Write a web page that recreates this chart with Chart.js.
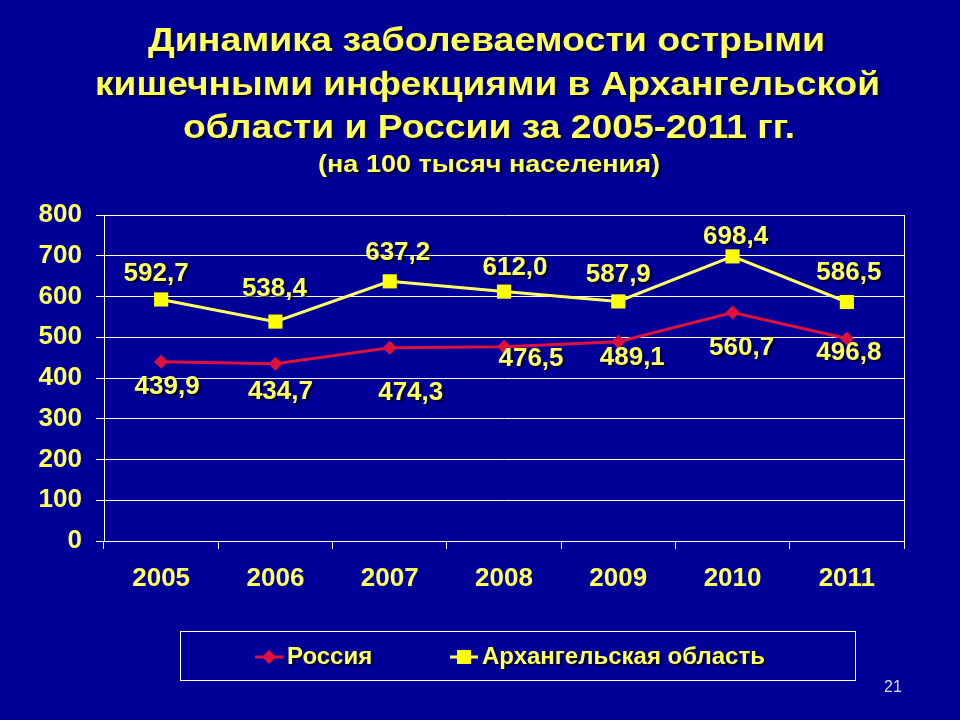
<!DOCTYPE html>
<html><head><meta charset="utf-8">
<script src="https://cdn.jsdelivr.net/npm/chart.js@4"></script>
<style>html,body{margin:0;padding:0;background:#000099;overflow:hidden}</style>
</head><body>
<canvas id="c" width="960" height="720" style="display:block;width:960px;height:720px"></canvas>
<script>
// ---- data ----
const years = ['2005', '2006', '2007', '2008', '2009', '2010', '2011'];
const russia = [439.9, 434.7, 474.3, 476.5, 489.1, 560.7, 496.8];
const arkhangelsk = [592.7, 538.4, 637.2, 612.0, 587.9, 698.4, 586.5];
const yTickValues = [0, 100, 200, 300, 400, 500, 600, 700, 800];
const seriesNames = ['Россия', 'Архангельская область'];
const titleLines = ['Динамика заболеваемости острыми', 'кишечными инфекциями в Архангельской', 'области и России за 2005-2011 гг.'];
const subtitleText = '(на 100 тысяч населения)';
const pageNumber = '21';

// label placement relative to each point (styling, not data)
const russiaLabelOffsets = [[6, 25], [5, 28], [21, 45], [27, 12], [14, 16], [9, 35], [2, 14]];
const arkhLabelOffsets = [[-5, -26], [-1, -33], [8, -29], [11, -24], [0, -27], [3, -20], [2, -29]];

const YELLOW = '#FFFF5A';
const RED = '#E0103C';
const BG = '#000099';
const FONT = '"Liberation Sans", Arial, sans-serif';

function fmt(v) { return v.toFixed(1).replace('.', ','); }
function shadowOn(ctx) { ctx.shadowColor = 'rgba(0,0,0,0.75)'; ctx.shadowOffsetX = 2; ctx.shadowOffsetY = 2; ctx.shadowBlur = 2; }

// draw text stretched/compressed horizontally so it spans targetWidth, centred on cx
function fitText(ctx, text, cx, y, targetWidth) {
  const w = ctx.measureText(text).width;
  const sx = targetWidth / w;
  ctx.save();
  ctx.translate(cx, y);
  ctx.scale(sx, 1);
  ctx.textAlign = 'center';
  ctx.fillText(text, 0, 0);
  ctx.restore();
}

const bgPlugin = {
  id: 'bg',
  beforeDraw(chart) {
    const ctx = chart.ctx;
    ctx.save(); ctx.fillStyle = BG; ctx.fillRect(0, 0, chart.width, chart.height); ctx.restore();
  }
};

const framePlugin = {
  id: 'frame',
  beforeDatasetsDraw(chart) {
    const { ctx, chartArea: a } = chart;
    ctx.save(); ctx.strokeStyle = '#FFFFFF'; ctx.lineWidth = 1;
    ctx.beginPath(); ctx.moveTo(a.right + 0.5, a.top); ctx.lineTo(a.right + 0.5, a.bottom); ctx.stroke();
    ctx.restore();
  }
};

const titlePlugin = {
  id: 'slideTitle',
  afterDraw(chart) {
    const ctx = chart.ctx;
    ctx.save(); shadowOn(ctx);
    ctx.fillStyle = YELLOW; ctx.textBaseline = 'alphabetic';
    ctx.font = 'bold 33px ' + FONT;
    const spans = [[148, 825], [95, 880], [183, 795]];
    const bases = [51, 95, 138];
    titleLines.forEach((t, i) => fitText(ctx, t, (spans[i][0] + spans[i][1]) / 2, bases[i], spans[i][1] - spans[i][0]));
    ctx.font = 'bold 24px ' + FONT;
    fitText(ctx, subtitleText, 489, 172, 342);
    ctx.restore();
    ctx.save();
    ctx.fillStyle = '#DDDDDD'; ctx.font = '16px ' + FONT; ctx.textAlign = 'center'; ctx.textBaseline = 'middle';
    ctx.fillText(pageNumber, 893, 688);
    ctx.restore();
  }
};

const labelPlugin = {
  id: 'pointLabels',
  afterDatasetsDraw(chart) {
    const ctx = chart.ctx;
    ctx.save(); shadowOn(ctx);
    ctx.fillStyle = YELLOW; ctx.font = 'bold 26px ' + FONT;
    ctx.textAlign = 'center'; ctx.textBaseline = 'middle';
    chart.data.datasets.forEach((ds, di) => {
      const meta = chart.getDatasetMeta(di);
      const offs = ds.labelOffsets;
      meta.data.forEach((pt, i) => {
        ctx.fillText(fmt(ds.data[i]), pt.x + offs[i][0], pt.y + offs[i][1]);
      });
    });
    ctx.restore();
  }
};

const legendPlugin = {
  id: 'boxLegend',
  afterDraw(chart) {
    const ctx = chart.ctx;
    ctx.save();
    ctx.strokeStyle = '#FFFFFF'; ctx.lineWidth = 1;
    ctx.strokeRect(180.5, 631.5, 675, 49);
    const cy = 657;
    const items = [
      { x: 255, ds: chart.data.datasets[0] },
      { x: 450, ds: chart.data.datasets[1] }
    ];
    items.forEach(it => {
      ctx.strokeStyle = it.ds.borderColor; ctx.lineWidth = 3;
      ctx.beginPath(); ctx.moveTo(it.x, cy); ctx.lineTo(it.x + 28, cy); ctx.stroke();
      ctx.fillStyle = it.ds.pointBackgroundColor;
      const mx = it.x + 14;
      if (it.ds.pointStyle === 'rectRot') {
        ctx.beginPath(); ctx.moveTo(mx - 7, cy); ctx.lineTo(mx, cy - 7); ctx.lineTo(mx + 7, cy); ctx.lineTo(mx, cy + 7); ctx.closePath(); ctx.fill();
      } else {
        ctx.fillRect(mx - 7, cy - 7, 14, 14);
      }
      shadowOn(ctx);
      ctx.fillStyle = YELLOW; ctx.font = 'bold 24px ' + FONT; ctx.textAlign = 'left'; ctx.textBaseline = 'middle';
      ctx.fillText(it.ds.label, it.x + 32, cy);
      ctx.shadowColor = 'transparent';
    });
    ctx.restore();
  }
};

new Chart(document.getElementById('c'), {
  type: 'line',
  data: {
    labels: years,
    datasets: [
      {
        label: seriesNames[0], data: russia, labelOffsets: russiaLabelOffsets,
        borderColor: RED, borderWidth: 3, tension: 0,
        pointStyle: 'rectRot', pointRadius: 7, pointHoverRadius: 7,
        pointBackgroundColor: RED, pointBorderColor: RED, pointBorderWidth: 0
      },
      {
        label: seriesNames[1], data: arkhangelsk, labelOffsets: arkhLabelOffsets,
        borderColor: '#FFFF66', borderWidth: 3, tension: 0,
        pointStyle: 'rect', pointRadius: 10, pointHoverRadius: 10,
        pointBackgroundColor: '#FFFF00', pointBorderColor: '#FFFF00', pointBorderWidth: 0
      }
    ]
  },
  options: {
    responsive: false,
    animation: false,
    devicePixelRatio: 1,
    layout: { padding: { left: 0, top: 215, right: 56, bottom: 120 } },
    plugins: { legend: { display: false }, title: { display: false }, tooltip: { enabled: false } },
    scales: {
      x: {
        type: 'category',
        offset: true,
        grid: { display: true, drawOnChartArea: false, drawTicks: true, tickLength: 8, color: '#FFFFFF', offset: true },
        border: { display: true, color: '#FFFFFF', width: 1 },
        ticks: { color: YELLOW, font: { family: FONT, size: 26, weight: 'bold' }, padding: 14, maxRotation: 0 },
        afterFit(scale) { scale.height = 59; }
      },
      y: {
        min: 0, max: 800,
        afterBuildTicks(scale) { scale.ticks = yTickValues.map(v => ({ value: v })); },
        grid: { color: '#FFFFFF', lineWidth: 1, drawTicks: true, tickLength: 8 },
        border: { display: true, color: '#FFFFFF', width: 1 },
        ticks: { color: YELLOW, font: { family: FONT, size: 26, weight: 'bold' }, padding: 14 },
        afterFit(scale) { scale.width = 104; }
      }
    }
  },
  plugins: [bgPlugin, framePlugin, labelPlugin, legendPlugin, titlePlugin]
});
</script>
</body></html>
